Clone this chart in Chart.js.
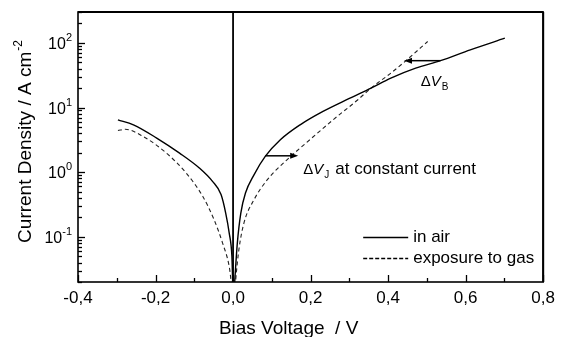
<!DOCTYPE html>
<html><head><meta charset="utf-8">
<script src="https://cdn.jsdelivr.net/npm/chart.js@4.4.1/dist/chart.umd.min.js"></script>
<style>html,body{margin:0;padding:0;background:#fff}canvas{display:block}</style>
</head><body>
<canvas id="c" width="561" height="337"></canvas>
<script>
// ---- data ----
const airX = [-0.297,-0.257,-0.197,-0.138,-0.087,-0.053,-0.031,-0.019,-0.010,-0.003,0.001,0.005,0.011,0.020,0.032,0.054,0.083,0.122,0.173,0.232,0.300,0.356,0.407,0.471,0.535,0.612,0.701];
const airY = [6.45,5.4,3.37,1.97,1.16,0.72,0.45,0.233,0.115,0.050,0.01,0.024,0.080,0.233,0.475,0.91,1.75,3.17,5.4,8.7,13.8,20,28.5,40.6,53,78,118];
const gasX = [-0.297,-0.278,-0.232,-0.172,-0.121,-0.078,-0.049,-0.027,-0.010,0.003,0.007,0.015,0.028,0.054,0.088,0.139,0.198,0.258,0.322,0.356,0.407,0.446,0.502];
const gasY = [4.4,4.6,3.56,1.97,0.97,0.42,0.184,0.080,0.035,0.01,0.022,0.063,0.163,0.374,0.76,1.55,3.17,6.45,13.2,20,34,53,105];
const seriesNames = ['in air', 'exposure to gas'];
const xTicks = [-0.4,-0.2,0,0.2,0.4,0.6,0.8];
const xMinorTicks = [-0.3,-0.1,0.1,0.3,0.5,0.7];
const yDecadeExponents = [-1,0,1,2];
const yRange = [0.02, 300];
const zeroLineX = 0;
const arrowJ = {x1:0.083, x2:0.168, y:1.79};
const arrowB = {x1:0.535, x2:0.441, y:53};
const labelJ = {x:0.181, y:0.944, sub:'J', tail:'at constant current'};
const labelB = {x:0.484, y:21.6, sub:'B'};
const xTitle = 'Bias Voltage  / V';
const yTitle = 'Current Density / A cm';
const yTitleSup = '-2';

const FONT = "'Liberation Sans', Arial, Helvetica, sans-serif";
const toPts = (xs, ys) => xs.map((v, i) => ({x: v, y: ys[i]}));

function line(ctx, x1, y1, x2, y2){ctx.beginPath();ctx.moveTo(x1,y1);ctx.lineTo(x2,y2);ctx.stroke();}
function arrow(ctx, x1, y1, x2, y2){
  const dir = Math.sign(x2 - x1), hl = 8, hw = 3;
  ctx.lineWidth = 1.5;
  line(ctx, x1, y1, x2 - dir*hl*0.8, y2);
  ctx.beginPath(); ctx.moveTo(x2, y2); ctx.lineTo(x2 - dir*hl, y2 - hw); ctx.lineTo(x2 - dir*hl, y2 + hw); ctx.closePath(); ctx.fill();
}
function deltaV(ctx, px, py, sub){
  ctx.textBaseline = 'alphabetic'; ctx.textAlign = 'left';
  ctx.font = '15px ' + FONT; ctx.fillText('\u0394', px, py);
  let w = ctx.measureText('\u0394').width;
  ctx.font = 'italic 15px ' + FONT; ctx.fillText('V', px + w, py);
  w += ctx.measureText('V').width;
  ctx.font = '10px ' + FONT; ctx.fillText(sub, px + w + 1, py + 4);
  return px + w + 1 + ctx.measureText(sub).width;
}

const decor = {
  id: 'decor',
  afterDraw(chart){
    const {ctx, chartArea: a, scales: {x, y}} = chart;
    ctx.save();
    ctx.strokeStyle = '#000'; ctx.fillStyle = '#000';
    // frame
    ctx.lineWidth = 1.6;
    ctx.strokeRect(a.left, a.top, a.right - a.left, a.bottom - a.top);
    ctx.lineWidth = 2;
    line(ctx, a.left, a.top, a.right, a.top);
    line(ctx, a.right, a.top, a.right, a.bottom);
    // inward x ticks
    ctx.lineWidth = 1.3;
    xTicks.forEach(v => { const p = Math.round(x.getPixelForValue(v)) + 0.5; line(ctx, p, a.bottom, p, a.bottom - 7); });
    xMinorTicks.forEach(v => { const p = Math.round(x.getPixelForValue(v)) + 0.5; line(ctx, p, a.bottom, p, a.bottom - 4); });
    // inward y ticks
    for (let d = -2; d <= 2; d++) {
      for (let m = 1; m <= 9; m++) {
        const v = m * Math.pow(10, d);
        if (v < yRange[0] || v > yRange[1]) continue;
        const p = Math.round(y.getPixelForValue(v)) + 0.5;
        line(ctx, a.left, p, a.left + (m === 1 ? 7 : 4), p);
      }
    }
    // y tick labels 10^n
    yDecadeExponents.forEach(e => {
      const p = y.getPixelForValue(Math.pow(10, e));
      const sup = String(e);
      ctx.font = '11px ' + FONT; const ws = ctx.measureText(sup).width;
      ctx.font = '16px ' + FONT; const wb = ctx.measureText('10').width;
      const right = a.left - 6;
      ctx.textAlign = 'left'; ctx.textBaseline = 'alphabetic';
      ctx.fillText('10', right - ws - wb, p + 6);
      ctx.font = '11px ' + FONT;
      ctx.fillText(sup, right - ws, p - 2);
    });
    // axis titles
    ctx.font = '19px ' + FONT; ctx.textAlign = 'left'; ctx.textBaseline = 'alphabetic';
    const xtw = ctx.measureText(xTitle).width;
    ctx.fillText(xTitle, (a.left + a.right) / 2 - 22 - xtw / 2, 334);
    ctx.save();
    ctx.translate(31, (a.top + a.bottom) / 2 - 5);
    ctx.rotate(-Math.PI / 2);
    const ytw = ctx.measureText(yTitle).width;
    ctx.font = '12px ' + FONT; const ysw = ctx.measureText(yTitleSup).width;
    ctx.font = '19px ' + FONT;
    const start = -(ytw + ysw) / 2;
    ctx.fillText(yTitle, start, 0);
    ctx.font = '12px ' + FONT;
    ctx.fillText(yTitleSup, start + ytw + 1, -9);
    ctx.restore();
    // arrows
    arrow(ctx, x.getPixelForValue(arrowJ.x1), y.getPixelForValue(arrowJ.y), x.getPixelForValue(arrowJ.x2), y.getPixelForValue(arrowJ.y));
    arrow(ctx, x.getPixelForValue(arrowB.x1), y.getPixelForValue(arrowB.y), x.getPixelForValue(arrowB.x2), y.getPixelForValue(arrowB.y));
    // labels
    deltaV(ctx, x.getPixelForValue(labelB.x), y.getPixelForValue(labelB.y), labelB.sub);
    const endJ = deltaV(ctx, x.getPixelForValue(labelJ.x), y.getPixelForValue(labelJ.y), labelJ.sub);
    ctx.font = '17px ' + FONT;
    ctx.fillText(labelJ.tail, endJ + 6, y.getPixelForValue(labelJ.y));
    // legend
    const lx1 = a.right - 180, lx2 = a.right - 135;
    const ly = [a.bottom - 45, a.bottom - 24];
    ctx.lineWidth = 1.4; ctx.setLineDash([]);
    line(ctx, lx1, ly[0] + 0.5, lx2, ly[0] + 0.5);
    ctx.lineWidth = 1.5; ctx.setLineDash([4, 2]);
    line(ctx, lx1, ly[1] + 0.5, lx2, ly[1] + 0.5);
    ctx.setLineDash([]);
    ctx.font = '17px ' + FONT; ctx.textBaseline = 'middle';
    ctx.fillText(seriesNames[0], lx2 + 5, ly[0]);
    ctx.fillText(seriesNames[1], lx2 + 5, ly[1]);
    ctx.restore();
  }
};

new Chart(document.getElementById('c'), {
  type: 'line',
  data: {
    datasets: [
      {label: seriesNames[0], data: toPts(airX, airY), borderColor: '#000', borderWidth: 1.4, pointRadius: 0, cubicInterpolationMode: 'monotone', fill: false},
      {label: seriesNames[1], data: toPts(gasX, gasY), borderColor: '#222', borderWidth: 1.1, borderDash: [4, 3], pointRadius: 0, cubicInterpolationMode: 'monotone', fill: false},
      {label: 'V = 0', data: [{x: zeroLineX, y: yRange[0]}, {x: zeroLineX, y: yRange[1]}], borderColor: '#000', borderWidth: 1.8, pointRadius: 0, fill: false}
    ]
  },
  options: {
    responsive: false, animation: false, devicePixelRatio: 1,
    layout: {padding: {left: 0, right: 13, top: 12, bottom: 0}},
    plugins: {legend: {display: false}, tooltip: {enabled: false}},
    scales: {
      x: {
        type: 'linear', position: 'bottom', min: -0.4, max: 0.8,
        grid: {display: false, drawTicks: false}, border: {display: false},
        ticks: {stepSize: 0.2, padding: 6, color: '#000', font: {family: FONT, size: 17},
          callback: v => (Math.round(v * 10) / 10).toFixed(1).replace('.', ',')},
        afterFit: s => { s.height = 55; }
      },
      y: {
        type: 'logarithmic', min: yRange[0], max: yRange[1],
        grid: {display: false, drawTicks: false}, border: {display: false},
        ticks: {display: false},
        afterFit: s => { s.width = 78; }
      }
    }
  },
  plugins: [decor]
});
</script>
</body></html>
